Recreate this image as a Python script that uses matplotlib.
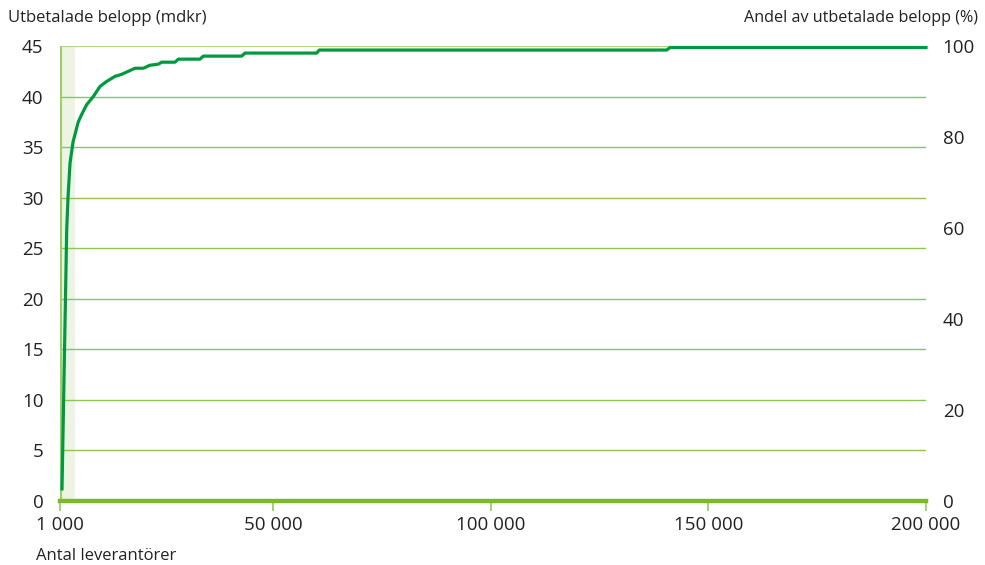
import numpy as np
import matplotlib.pyplot as plt
from matplotlib.ticker import FuncFormatter

# cumulative payments (mdkr) vs number of suppliers
suppliers = [1460, 2540, 2840, 3300, 3990, 5200, 6060, 7140, 8650, 10190,
             11730, 13640, 15180, 16700, 18240, 20140, 21680, 23590, 24370,
             27430, 28190, 33170, 33930, 42750, 43510, 59990, 60590, 140420,
             141180, 200000]
amount = [1.2, 26.8, 30.0, 33.4, 35.5, 37.5, 38.3, 39.2, 40.0, 41.0,
          41.5, 42.0, 42.2, 42.5, 42.8, 42.8, 43.1, 43.2, 43.4,
          43.4, 43.7, 43.7, 44.0, 44.0, 44.3, 44.3, 44.6, 44.6,
          44.85, 44.85]

left_ticks = [0, 5, 10, 15, 20, 25, 30, 35, 40, 45]
right_ticks = [0, 20, 40, 60, 80, 100]
x_ticks = [1000, 50000, 100000, 150000, 200000]
shade_end = 4500

plt.rcParams['font.family'] = ['Open Sans', 'DejaVu Sans']
dark = '#222222'
grid_c = '#8dc653'
axis_c = '#7cb82f'
line_c = '#009a3e'

fig = plt.figure(figsize=(9.85, 5.65), dpi=100, facecolor='white')
ax = fig.add_axes([60 / 985, 1 - 501 / 565, 866 / 985, 455 / 565])
ax.set_xlim(1000, 200000)
ax.set_ylim(0, 45)

ax.axvspan(1000, shade_end, color='#eef4e4', zorder=0, lw=0)
for t in left_ticks[1:-1]:
    ax.axhline(t, color=grid_c, lw=1.0, zorder=1)
ax.axhline(45, color='#aad88a', lw=1.6, zorder=1)
ax.axvline(1000, color='#9ccf6b', lw=3, zorder=2)

ax.plot(suppliers, amount, color=line_c, lw=2.3, zorder=4,
        solid_joinstyle='round', clip_on=False)
ax.axhline(0, color=axis_c, lw=3.2, zorder=5, clip_on=False)

for s in ax.spines.values():
    s.set_visible(False)

ax.set_yticks(left_ticks)
ax.tick_params(axis='y', length=0, pad=12, labelsize=13.5, labelcolor=dark)
ax.set_xticks(x_ticks)
ax.xaxis.set_major_formatter(FuncFormatter(lambda v, p: f'{int(v):,}'.replace(',', ' ')))
ax.tick_params(axis='x', length=7, width=1.3, color='#9ccf6b', pad=4,
               labelsize=13.5, labelcolor=dark)

ax2 = ax.twinx()
ax2.set_ylim(0, 100)
ax2.set_yticks(right_ticks)
ax2.tick_params(axis='y', length=0, pad=12, labelsize=13.5, labelcolor=dark)
for s in ax2.spines.values():
    s.set_visible(False)

fig.text(8 / 985, 1 - 18 / 565, 'Utbetalade belopp (mdkr)', fontsize=12,
         color=dark, va='center', ha='left')
fig.text(978 / 985, 1 - 18 / 565, 'Andel av utbetalade belopp (%)', fontsize=11.6,
         color=dark, va='center', ha='right')
fig.text(36 / 985, 1 - 556 / 565, 'Antal leverantörer', fontsize=12,
         color=dark, va='center', ha='left')

fig.savefig('out.png', dpi=100, facecolor='white')
